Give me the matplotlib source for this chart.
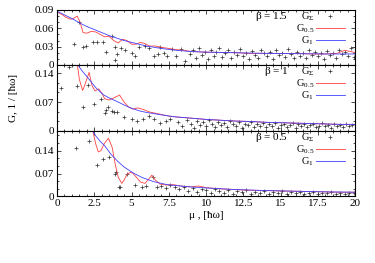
import numpy as np
import matplotlib.pyplot as plt
from matplotlib.ticker import MultipleLocator, AutoMinorLocator, FormatStrFormatter

plt.rcParams['font.family'] = ['Liberation Serif', 'DejaVu Serif']
plt.rcParams['mathtext.fontset'] = 'custom'
plt.rcParams['mathtext.rm'] = 'Liberation Serif'
plt.rcParams['mathtext.it'] = 'Liberation Serif'
plt.rcParams['font.size'] = 8

# ---------------- datos: beta = 1.5 ----------------
x_b15 = [0, 0.5, 1, 1.5, 2, 2.5, 3, 3.5, 4, 4.5, 5, 6, 7, 8, 9, 10, 12, 14, 16, 18, 20]
y_b15 = [0.088, 0.082, 0.076, 0.069, 0.063, 0.058, 0.053, 0.048, 0.044, 0.040, 0.037,
         0.031, 0.027, 0.024, 0.022, 0.021, 0.020, 0.019, 0.0185, 0.018, 0.018]
x_r15 = [0, 0.3, 0.6, 0.9, 1.1, 1.35, 1.55, 1.75, 2.0, 2.3, 2.6, 2.9, 3.2, 3.5, 3.8, 4.1,
         4.4, 4.7, 5.0, 5.3, 5.6, 5.9, 6.2, 6.6, 7.0, 7.5, 8.0, 8.5, 9, 10, 11, 12, 13, 14,
         15, 16, 17, 18, 18.8, 19.3, 19.7, 20]
y_r15 = [0.087, 0.083, 0.078, 0.075, 0.076, 0.080, 0.070, 0.053, 0.052, 0.055, 0.054, 0.050,
         0.046, 0.047, 0.040, 0.036, 0.042, 0.040, 0.034, 0.034, 0.037, 0.035, 0.031, 0.031,
         0.029, 0.027, 0.025, 0.024, 0.022, 0.021, 0.0205, 0.020, 0.019, 0.019, 0.0185,
         0.019, 0.018, 0.018, 0.019, 0.024, 0.022, 0.020]
x_s15 = [1.14, 1.45, 1.77, 1.95, 2.44, 2.66, 3.1, 3.3, 3.7, 3.9, 3.92, 4.0, 4.3, 4.57, 5.0,
         5.2, 5.5, 5.9, 6.2, 6.5, 6.8, 6.9, 7.2, 7.4, 7.7, 8.0, 8.3, 8.6, 8.9, 9.1, 9.3, 9.5,
         9.7, 9.9, 10.1, 10.3, 10.5, 10.7, 10.9, 11.1, 11.3, 11.5, 11.7, 11.9, 12.1, 12.3,
         12.5, 12.7, 12.9, 13.1, 13.3, 13.5, 13.7, 13.9, 14.1, 14.3, 14.5, 14.7, 14.9, 15.1,
         15.3, 15.5, 15.7, 15.9, 16.1, 16.3, 16.5, 16.7, 16.9, 17.1, 17.3, 17.5, 17.7, 17.9,
         18.1, 18.3, 18.5, 18.7, 18.9, 19.1, 19.3, 19.5, 19.7, 19.9]
y_s15 = [0.035, 0.071, 0.030, 0.031, 0.038, 0.038, 0.037, 0.021, 0.047, 0.030, 0.008, 0.018,
         0.027, 0.025, 0.020, 0.014, 0.030, 0.031, 0.028, 0.015, 0.018, 0.030, 0.020, 0.014,
         0.026, 0.014, 0.026, 0.006, 0.018, 0.024, 0.012, 0.027, 0.017, 0.022, 0.010, 0.025,
         0.015, 0.021, 0.028, 0.013, 0.019, 0.024, 0.011, 0.022, 0.016, 0.026, 0.014, 0.020,
         0.009, 0.023, 0.017, 0.012, 0.025, 0.019, 0.014, 0.021, 0.010, 0.024, 0.016, 0.020,
         0.013, 0.026, 0.018, 0.011, 0.022, 0.015, 0.019, 0.012, 0.024, 0.017, 0.021, 0.014,
         0.019, 0.009, 0.023, 0.016, 0.020, 0.012, 0.025, 0.018, 0.022, 0.015, 0.027, 0.013]

# ---------------- datos: beta = 1 ----------------
x_b1 = [1.3, 1.7, 2.0, 2.2, 2.6, 3.1, 3.5, 4.0, 4.5, 5.0, 5.6, 6.0, 7.0, 8.0, 8.7, 10, 11,
        12, 13, 14, 15, 16, 17, 18, 19, 20]
y_b1 = [0.165, 0.145, 0.132, 0.123, 0.105, 0.088, 0.080, 0.072, 0.063, 0.055, 0.048, 0.045,
        0.039, 0.034, 0.032, 0.028, 0.026, 0.024, 0.023, 0.021, 0.020, 0.019, 0.018, 0.017,
        0.016, 0.016]
x_r1 = [1.35, 1.5, 1.72, 1.9, 2.15, 2.35, 2.55, 2.8, 3.0, 3.2, 3.5, 3.8, 4.2, 4.5, 4.8, 5.1,
        5.4, 5.8, 6.2, 6.6, 7.0, 7.5, 8, 9, 10, 11, 12, 13, 14, 15, 16, 17, 18, 19, 20]
y_r1 = [0.165, 0.125, 0.098, 0.115, 0.142, 0.110, 0.097, 0.102, 0.092, 0.078, 0.075, 0.080,
        0.087, 0.070, 0.058, 0.053, 0.056, 0.052, 0.046, 0.043, 0.040, 0.036, 0.034, 0.031,
        0.028, 0.026, 0.024, 0.023, 0.021, 0.020, 0.019, 0.018, 0.017, 0.016, 0.016]
x_s1 = [0.25, 0.8, 1.37, 1.77, 2.1, 2.5, 2.95, 3.2, 3.3, 3.45, 3.7, 3.85, 4.05, 4.5, 5.0,
        5.4, 5.8, 6.2, 6.5, 6.9, 7.3, 7.6, 8.1, 8.4, 8.7, 9.0, 9.2, 9.4, 9.6, 9.8, 10.0, 10.2,
        10.4, 10.6, 10.8, 11.0, 11.2, 11.4, 11.6, 11.8, 12.0, 12.2, 12.4, 12.6, 12.8, 13.0,
        13.2, 13.4, 13.6, 13.8, 14.0, 14.2, 14.4, 14.6, 14.8, 15.0, 15.2, 15.4, 15.6, 15.8,
        16.0, 16.2, 16.4, 16.6, 16.8, 17.0, 17.2, 17.4, 17.6, 17.8, 18.0, 18.2, 18.4, 18.6,
        18.8, 19.0, 19.2, 19.4, 19.6, 19.8]
y_s1 = [0.104, 0.154, 0.109, 0.057, 0.111, 0.065, 0.078, 0.044, 0.052, 0.058, 0.048, 0.047,
        0.047, 0.033, 0.028, 0.024, 0.030, 0.036, 0.028, 0.020, 0.025, 0.030, 0.022, 0.012,
        0.026, 0.018, 0.008, 0.024, 0.015, 0.021, 0.011, 0.026, 0.017, 0.009, 0.022, 0.014,
        0.019, 0.010, 0.024, 0.016, 0.012, 0.021, 0.008, 0.018, 0.014, 0.022, 0.010, 0.017,
        0.013, 0.020, 0.009, 0.016, 0.012, 0.019, 0.007, 0.015, 0.018, 0.010, 0.014, 0.020,
        0.008, 0.016, 0.012, 0.018, 0.010, 0.014, 0.017, 0.009, 0.013, 0.019, 0.011, 0.015,
        0.008, 0.017, 0.012, 0.014, 0.010, 0.016, 0.012, 0.015]

# ---------------- datos: beta = 0.5 ----------------
x_b05 = [2.4, 2.6, 2.9, 3.2, 3.6, 4.1, 4.5, 5.1, 5.7, 6.5, 7.4, 8.7, 10, 12, 14, 16, 18, 20]
y_b05 = [0.200, 0.185, 0.168, 0.155, 0.130, 0.106, 0.090, 0.072, 0.058, 0.045, 0.036, 0.030,
         0.026, 0.021, 0.018, 0.016, 0.014, 0.013]
x_r05 = [2.4, 2.6, 2.77, 2.95, 3.15, 3.45, 3.7, 3.9, 4.1, 4.34, 4.5, 4.7, 5.0, 5.3, 5.6, 5.9,
         6.1, 6.36, 6.6, 6.9, 7.3, 7.8, 8.3, 9, 9.5, 10, 11, 12, 13, 14, 15, 16, 17, 18, 19, 20]
y_r05 = [0.200, 0.160, 0.136, 0.140, 0.160, 0.178, 0.150, 0.100, 0.060, 0.040, 0.050, 0.068,
         0.075, 0.060, 0.044, 0.040, 0.050, 0.065, 0.050, 0.038, 0.035, 0.036, 0.032, 0.029,
         0.032, 0.027, 0.023, 0.021, 0.019, 0.018, 0.017, 0.016, 0.015, 0.014, 0.013, 0.013]
x_s05 = [1.28, 2.18, 2.66, 3.07, 3.49, 3.9, 3.96, 4.16, 4.2, 4.67, 5.2, 5.7, 6.0, 6.45, 6.7,
         7.0, 7.3, 7.6, 7.9, 8.2, 8.5, 8.8, 9.1, 9.4, 9.7, 10.0, 10.3, 10.6, 10.9, 11.2, 11.5,
         11.8, 12.1, 12.4, 12.7, 13.0, 13.3, 13.6, 13.9, 14.2, 14.5, 14.8, 15.1, 15.4, 15.7,
         16.0, 16.3, 16.6, 16.9, 17.2, 17.5, 17.8, 18.1, 18.4, 18.7, 19.0, 19.3, 19.6, 19.9]
y_s05 = [0.147, 0.170, 0.096, 0.113, 0.121, 0.070, 0.075, 0.030, 0.028, 0.068, 0.035, 0.030,
         0.033, 0.060, 0.030, 0.032, 0.025, 0.034, 0.028, 0.022, 0.030, 0.018, 0.026, 0.014,
         0.024, 0.020, 0.010, 0.022, 0.016, 0.012, 0.020, 0.009, 0.017, 0.013, 0.019, 0.008,
         0.015, 0.011, 0.018, 0.009, 0.014, 0.012, 0.016, 0.008, 0.013, 0.011, 0.015, 0.009,
         0.012, 0.014, 0.008, 0.012, 0.010, 0.013, 0.008, 0.011, 0.009, 0.012, 0.010]

paneles = [
    (r'$\beta$ = 1.5', x_s15, y_s15, x_r15, y_r15, x_b15, y_b15, 0.09, [0, 0.03, 0.06, 0.09]),
    (r'$\beta$ = 1', x_s1, y_s1, x_r1, y_r1, x_b1, y_b1, 0.16, [0, 0.07, 0.14]),
    (r'$\beta$ = 0.5', x_s05, y_s05, x_r05, y_r05, x_b05, y_b05, 0.2, [0, 0.07, 0.14]),
]

fig = plt.figure(figsize=(3.75, 2.63), dpi=100)
# posiciones de los tres paneles (left, bottom, width, height)
posiciones = [[0.152, 0.753, 0.795, 0.209],
              [0.152, 0.502, 0.795, 0.251],
              [0.152, 0.253, 0.795, 0.249]]

for i, (beta, xs, ys, xr, yr, xb, yb, ymax, yt) in enumerate(paneles):
    ax = fig.add_axes(posiciones[i])
    ax.plot(xs, ys, ls='none', marker='+', ms=3, mew=0.5, color='#333333')
    ax.plot(xr, yr, color='#ff4040', lw=0.6)
    ax.plot(xb, yb, color='#4040ff', lw=0.6)
    ax.set_xlim(0, 20)
    ax.set_ylim(0, ymax)
    ax.set_yticks(yt)
    ax.yaxis.set_major_formatter(FormatStrFormatter('%g'))
    ax.xaxis.set_major_locator(MultipleLocator(2.5))
    ax.xaxis.set_minor_locator(MultipleLocator(0.5))
    ax.xaxis.set_major_formatter(FormatStrFormatter('%g'))
    ax.yaxis.set_minor_locator(AutoMinorLocator(3))
    ax.tick_params(which='both', direction='in', top=True, right=True, width=0.5, pad=2)
    ax.tick_params(which='major', length=3)
    ax.tick_params(which='minor', length=1.5)
    for s in ax.spines.values():
        s.set_linewidth(0.8)
    if i < 2:
        ax.tick_params(labelbottom=False)
    else:
        ax.set_xlabel(u'\u03bc , [\u0127\u03c9]', labelpad=2)
    if i == 1:
        ax.set_ylabel(u'G, 1 / [\u0127\u03c9]', labelpad=12)

    # leyenda estilo gnuplot
    alto = posiciones[i][3] * 263
    filas = [1 - 6.5 / alto, 1 - 18.5 / alto, 1 - 30.5 / alto]
    ax.text(0.775, filas[0], beta, transform=ax.transAxes, ha='right', va='center')
    etiquetas = [r'G$_{\Sigma}$', r'G$_{0.5}$', r'G$_{1}$']
    for k in range(3):
        ax.text(0.862, filas[k], etiquetas[k], transform=ax.transAxes, ha='right', va='center',
                fontsize=7.5)
    ax.plot([0.916], [filas[0]], transform=ax.transAxes, marker='+', ms=3, mew=0.5, color='#333333')
    ax.plot([0.868, 0.966], [filas[1]] * 2, transform=ax.transAxes, color='#ff4040', lw=0.6)
    ax.plot([0.868, 0.966], [filas[2]] * 2, transform=ax.transAxes, color='#4040ff', lw=0.6)

fig.savefig('out.png', dpi=100)
